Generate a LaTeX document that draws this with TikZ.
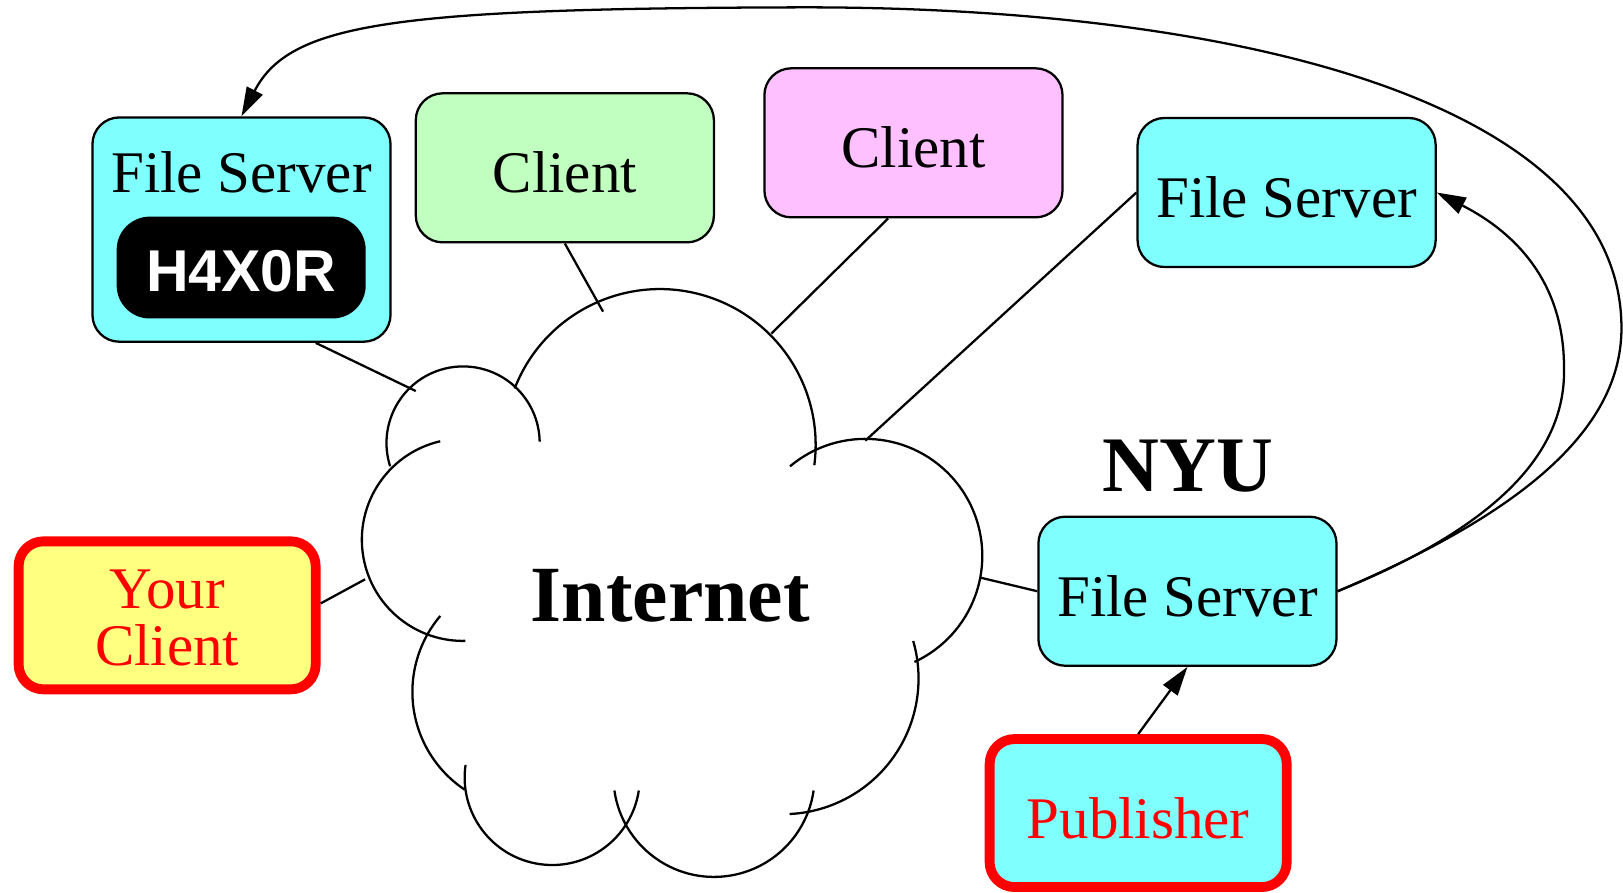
\documentclass[tikz,border=0pt]{standalone}
\usepackage{fontspec}
\setmainfont{Liberation Serif}
\newfontfamily\hxfont{Liberation Sans}
\usetikzlibrary{arrows.meta}
\definecolor{srvcyan}{HTML}{80FFFF}
\definecolor{cligreen}{HTML}{C0FFC0}
\definecolor{clipink}{HTML}{FFC0FF}
\definecolor{cliyellow}{HTML}{FFFF80}
% text of zero height and depth, raised by #1 from the node centre
\newcommand{\lifted}[2]{\raisebox{#1}[0pt][0pt]{#2}}
% one lobe of the cloud: centre (#1,#2), radius #3, from angle #4 to #5
\newcommand{\puffarc}[5]{\draw[puff] (#1,#2) ++(#4:#3) arc[start angle=#4, end angle=#5, radius=#3];}

\begin{document}
\begin{tikzpicture}[x=0.5pt,y=0.5pt,
  box/.style={draw=black, line width=1.1pt, rounded corners=13pt,
    minimum width=144pt, minimum height=72pt, inner sep=0pt,
    font=\fontsize{28.5}{34}\selectfont},
  mine/.style={box, draw=red, line width=4.75pt, text=red,
    minimum width=143.5pt, minimum height=71.5pt, rounded corners=12pt},
  wire/.style={line width=1.1pt},
  arr/.style={line width=1.1pt, -{Triangle[length=14pt,width=8.5pt]}},
  puff/.style={line width=1.1pt},
]
\useasboundingbox (0,0) rectangle (1568,862);

% the Internet cloud
\puffarc{637.5}{432.2}{150.5}{158.8}{-7.5}
\puffarc{447.4}{434}{74}{197.7}{1}
\puffarc{447.3}{340.5}{97.7}{103}{271.4}
\puffarc{511.9}{193.5}{113.5}{139.7}{236.3}
\puffarc{533.5}{110.9}{84.6}{171.8}{351.4}
\puffarc{689.8}{112}{97.2}{188.1}{351.9}
\puffarc{756.4}{206.4}{131}{272.8}{376.1}
\puffarc{836}{325}{113}{130.1}{-65.2}
\node[anchor=base, inner sep=0pt, font=\bfseries\fontsize{38.5}{40}\selectfont]
  (inet) at (647.5,262) {Internet};

% where the links meet the cloud
\coordinate (k1) at (401.7,484.2);
\coordinate (k2) at (582.6,560.9);
\coordinate (k3) at (745.3,539.8);
\coordinate (k4) at (836,436.3);
\coordinate (k5) at (946.5,304.1);
\coordinate (k6) at (352.7,302.3);

% hosts
\node[box, fill=srvcyan, minimum height=108.35pt] (hfs) at (233.3,640.2)
  {\lifted{17.8pt}{File Server}};
\node[fill=black, rounded corners=16pt, minimum width=120.3pt,
  minimum height=49.2pt, inner sep=0pt, text=white,
  font=\hxfont\bfseries\fontsize{28.5}{34}\selectfont]
  (hx) at (233,603.5) {\lifted{-11.65pt}{H4X0R}};
\node[box, fill=cligreen] (gcl) at (545.7,699.85) {\lifted{-12pt}{Client}};
\node[box, fill=clipink] (pcl) at (882.5,724) {\lifted{-12pt}{Client}};
\node[box, fill=srvcyan] (rfs) at (1243,676) {\lifted{-12pt}{File Server}};
\node[box, fill=srvcyan] (nyu) at (1147.2,290.8) {\lifted{-12pt}{File Server}};
\node[anchor=base, inner sep=0pt, font=\bfseries\fontsize{38}{40}\selectfont]
  (nyulbl) at (1147.7,387.2) {NYU};
\node[mine, fill=srvcyan] (pub) at (1099.6,76.5) {\lifted{-12.1pt}{Publisher}};
\node[mine, fill=cliyellow, font=\fontsize{28.5}{26.5}\selectfont] (ycl) at (161.5,267.5)
  {\lifted{-24.35pt}{\begin{tabular}[b]{@{}c@{}}Your\\Client\end{tabular}}};

% links into the cloud
\draw[wire] ([xshift=35.85pt]hfs.south) -- (k1);
\draw[wire] (gcl.south) -- (k2);
\draw[wire] ([xshift=-12.25pt]pcl.south) -- (k3);
\draw[wire] (rfs.west) -- (k4);
\draw[wire] (nyu.west) -- (k5);
\draw[wire] ([yshift=5.75pt]ycl.east) -- (k6);

% replication arrows
\draw[arr] (pub.north) -- (nyu.south);
\draw[arr] (nyu.east) .. controls (1458,358) and (1513,432) .. (1511,507)
  .. controls (1511,597) and (1455,642) .. (rfs.east);
\draw[arr] (nyu.east) .. controls (1460,362) and (1566.5,442) .. (1566.5,545)
  .. controls (1566.5,762) and (1200,855) .. (777.3,854.9)
  .. controls (380,854) and (280,840) .. (hfs.north);
\end{tikzpicture}
\end{document}
